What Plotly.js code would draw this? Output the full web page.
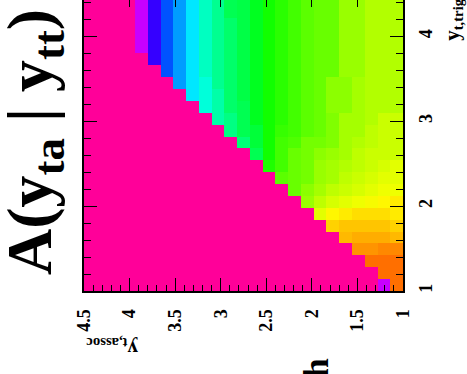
<!DOCTYPE html>
<html><head><meta charset="utf-8">
<script src="https://cdn.plot.ly/plotly-3.0.1.min.js"></script>
<style>
html,body{margin:0;padding:0;overflow:hidden;background:#fff;width:467px;height:374px}
#chart{position:absolute;left:0;top:-6px;width:467px;height:380px}
</style>
</head><body><div id="chart"></div>
<script>
// bin edges of the associated (x) and trigger (y) rapidity axes
const assocEdges = [1.00,1.14,1.28,1.42,1.56,1.70,1.84,1.98,2.12,2.26,2.40,2.54,2.68,2.82,2.96,3.10,3.24,3.38,3.52,3.66,3.80,3.94];
const trigEdges  = [1.00,1.14,1.28,1.42,1.56,1.70,1.84,1.98,2.12,2.26,2.40,2.54,2.68,2.82,2.96,3.10,3.24,3.38,3.52,3.66,3.80,3.94,4.08,4.22,4.36,4.50];
const assocTicks = [1,1.5,2,2.5,3,3.5,4,4.5];
const trigTicks  = [1,2,3,4];
// cell values (palette units 0-100), one row per trigger bin, one column per associated bin
const n = null;
const row00 = [91, 1, n,n,n,n,n,n,n,n,n,n,n,n,n,n,n,n,n,n,n];
const row01 = [91,91, n,n,n,n,n,n,n,n,n,n,n,n,n,n,n,n,n,n,n];
const row02 = [91,91,91, n,n,n,n,n,n,n,n,n,n,n,n,n,n,n,n,n,n];
const row03 = [89,89,88,88, n,n,n,n,n,n,n,n,n,n,n,n,n,n,n,n,n];
const row04 = [85,86,86,86,85, n,n,n,n,n,n,n,n,n,n,n,n,n,n,n,n];
const row05 = [83,84,84,84,84,83, n,n,n,n,n,n,n,n,n,n,n,n,n,n,n];
const row06 = [81,82,82,82,81,80,77, n,n,n,n,n,n,n,n,n,n,n,n,n,n];
const row07 = [81,80,79,78,77,76,74,71, n,n,n,n,n,n,n,n,n,n,n,n,n];
const row08 = [78,78,77,76,75,74,72,70,67, n,n,n,n,n,n,n,n,n,n,n,n];
const row09 = [77,77,76,75,74,72,71,68,67,66, n,n,n,n,n,n,n,n,n,n,n];
const row10 = [77,76,75,74,73,72,71,68,67,64,61, n,n,n,n,n,n,n,n,n,n];
const row11 = [75,75,75,74,72,71,70,68,67,64,60,52, n,n,n,n,n,n,n,n,n];
const row12 = [75,75,74,73,72,69,68,68,65,64,60,54,49, n,n,n,n,n,n,n,n];
const row13 = [75,75,74,72,72,69,67,66,64,63,60,54,52,48, n,n,n,n,n,n,n];
const row14 = [75,75,73,72,72,69,67,66,64,62,60,56,52,48,45, n,n,n,n,n,n];
const row15 = [73,73,73,72,70,70,67,66,64,62,60,56,52,50,45,41, n,n,n,n,n];
const row16 = [73,73,73,72,70,70,67,66,64,62,60,56,53,50,45,41,36, n,n,n,n];
const row17 = [73,73,73,72,70,70,67,66,64,62,60,56,53,50,47,41,36,30, n,n,n];
const row18 = [73,73,73,71,71,67,67,66,64,62,60,56,53,50,47,43,36,30,24, n,n];
const row19 = [73,73,73,71,71,67,67,66,64,62,60,56,53,50,47,43,36,30,24,13, n];
const row20 = [73,73,73,71,71,67,67,66,64,62,60,56,53,50,47,43,36,30,24,13, 1];
const row21 = [73,73,73,71,71,67,67,66,64,62,60,56,53,50,47,43,36,30,24,13, 1];
const row22 = [73,73,73,71,71,67,67,66,64,62,60,56,53,50,47,43,36,30,24,13, 1];
const row23 = [73,73,73,71,71,67,67,66,64,62,60,56,53,52,47,43,36,30,24,13, 1];
const row24 = [73,73,73,71,71,67,67,66,64,62,60,56,53,52,47,43,36,30,24,13, 1];
const cells = [row00,row01,row02,row03,row04,row05,row06,row07,row08,row09,row10,row11,row12,
               row13,row14,row15,row16,row17,row18,row19,row20,row21,row22,row23,row24];

// rainbow palette, violet (low) to orange-red (high)
const palette = [];
for (let k = 0; k <= 50; k++) {
  palette.push([k / 50, 'hsl(' + (290 - 5.8 * k).toFixed(1) + ',100%,50%)']);
}

const serif = 'Liberation Serif, Times New Roman, serif';
const trace = {
  type: 'heatmap', x: assocEdges, y: trigEdges, z: cells,
  colorscale: palette, zmin: 0, zmax: 100, showscale: false,
  hoverinfo: 'skip', zsmooth: false
};

const L = 84, R = 402.7, T = 0, B = 297;
const px = v => (v - L) / (R - L);
const py = v => (B - (v + 6)) / (B - T);

const layout = {
  width: 467, height: 380,
  margin: {l: 84, r: 64.3, t: 0, b: 83, pad: 0},
  paper_bgcolor: '#ffffff', plot_bgcolor: '#ff0099',
  showlegend: false,
  xaxis: {
    range: [4.5, 1], autorange: false, tickmode: 'array', tickvals: assocTicks,
    ticks: 'inside', ticklen: 13, tickwidth: 1, tickcolor: '#000',
    showline: true, linecolor: '#000', linewidth: 2, mirror: 'ticks',
    tickangle: -90, ticklabelstandoff: 9,
    tickfont: {family: serif, size: 18, weight: 'bold', color: '#000'},
    minor: {dtick: 0.1, tick0: 1, ticks: 'inside', ticklen: 6, tickwidth: 1, tickcolor: '#000'},
    showgrid: false, zeroline: false, fixedrange: true
  },
  yaxis: {
    range: [1, 4.5], autorange: false, side: 'right', tickmode: 'array', tickvals: trigTicks,
    ticks: 'inside', ticklen: 13, tickwidth: 1, tickcolor: '#000',
    showline: true, linecolor: '#000', linewidth: 2, mirror: 'ticks',
    tickangle: -90, ticklabelstandoff: 5,
    tickfont: {family: serif, size: 18, weight: 'bold', color: '#000'},
    minor: {dtick: 0.2, tick0: 1, ticks: 'inside', ticklen: 7, tickwidth: 1, tickcolor: '#000'},
    showgrid: false, zeroline: false, fixedrange: true
  },
  annotations: [
    {text: 'A(y<sub>ta</sub> | y<sub>tt</sub>)', textangle: -90, showarrow: false,
     xref: 'paper', yref: 'paper', x: px(34), y: py(142), xanchor: 'center', yanchor: 'middle',
     font: {family: serif, size: 64, weight: 'bold', color: '#000'}},
    {text: 'y<sub>t,assoc</sub>', textangle: 180, showarrow: false,
     xref: 'paper', yref: 'paper', x: px(112), y: py(348), xanchor: 'center', yanchor: 'middle',
     font: {family: serif, size: 21, weight: 'bold', color: '#000'}},
    {text: 'y<sub>t,trig</sub>', textangle: -90, showarrow: false,
     xref: 'paper', yref: 'paper', x: px(452), y: py(43), xanchor: 'center', yanchor: 'bottom',
     font: {family: serif, size: 21, weight: 'bold', color: '#000'}},
    {text: 'h', textangle: -90, showarrow: false,
     xref: 'paper', yref: 'paper', x: px(316), y: py(368), xanchor: 'center', yanchor: 'middle',
     font: {family: serif, size: 36, weight: 'bold', color: '#000'}}
  ]
};

Plotly.newPlot('chart', [trace], layout, {staticPlot: true, displayModeBar: false});
</script>
</body></html>
